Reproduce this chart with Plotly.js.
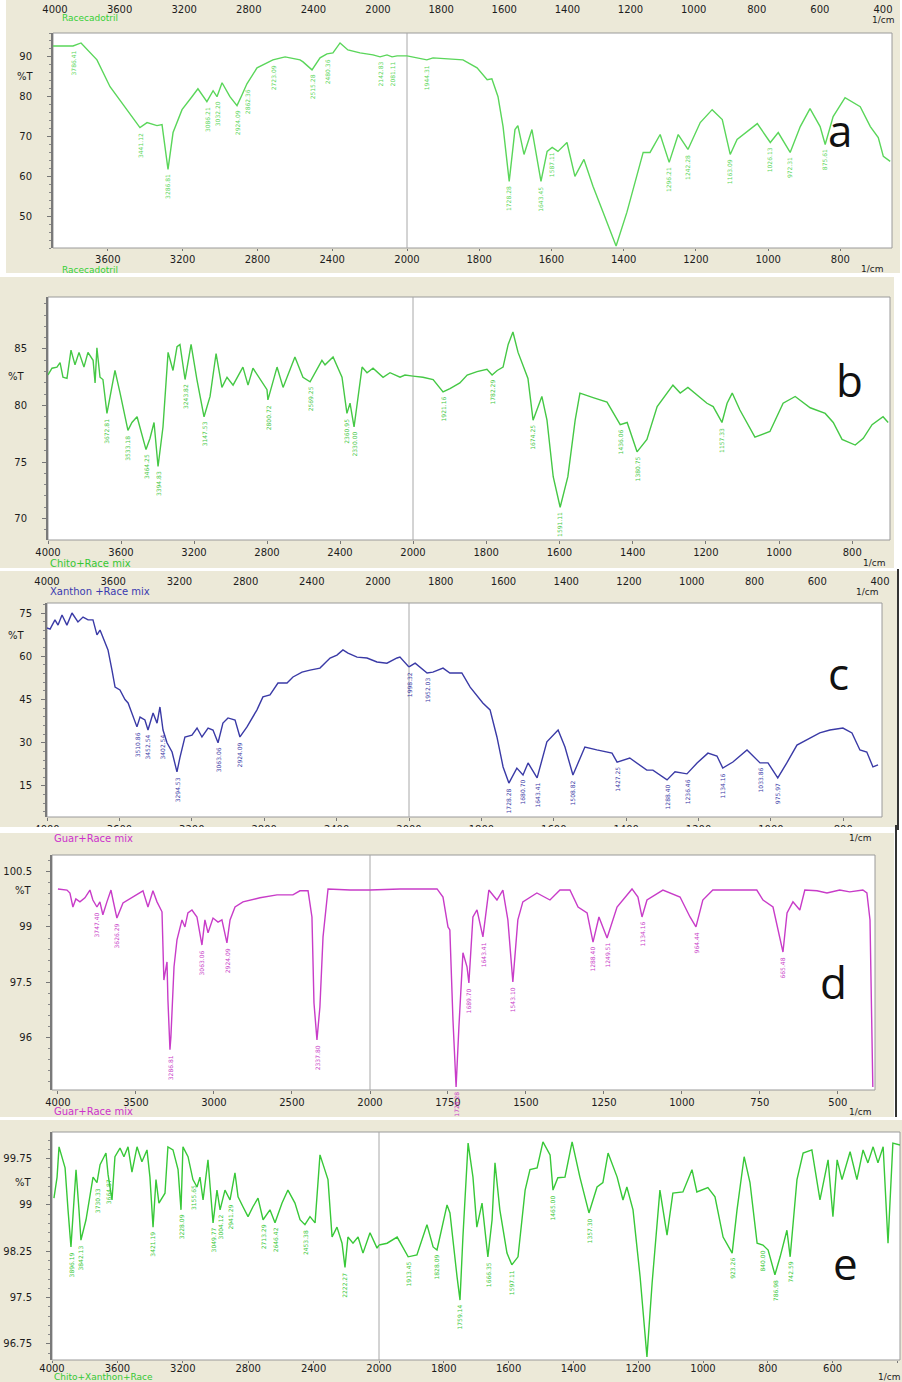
<!DOCTYPE html>
<html><head><meta charset="utf-8">
<script src="https://cdn.plot.ly/plotly-3.0.1.min.js"></script>
<style>html,body{margin:0;padding:0;background:#fff}</style>
</head><body><div id="chart" style="width:902px;height:1382px"></div>
<script>
// ===== DATA (wavenumber in 1/cm, transmittance %T) =====
// a: Racecadotril
const wnA = [3893,3786,3743,3658,3588,3524,3471,3428,3390,3337,3310,3278,3251,3203,3150,3118,3070,3037,3016,2989,2947,2909,2882,2856,2802,2717,2652,2572,2556,2508,2465,2428,2396,2358,2316,2251,2182,2144,2107,2080,2053,2000,1945,1928,1881,1845,1806,1778,1765,1748,1734,1717,1701,1693,1676,1654,1629,1612,1598,1582,1557,1535,1510,1485,1457,1421,1391,1363,1346,1327,1299,1274,1249,1222,1188,1155,1127,1105,1086,1030,994,972,939,911,884,856,842,820,787,745,717,695,681,662];
const tA = [92.75,92.75,93.5,89.25,82.5,78.5,75,72.25,73.5,72.75,73,61.75,71,76.75,80,82,78.75,81.5,80,83.5,80,77.75,80.5,83.25,87.25,89.25,90,89.25,88.75,86.75,89.75,90.75,91,93.5,91.75,91,90.5,90,90.5,90,90.25,90.25,89.25,89.75,89.5,89.25,87.25,84.25,84.5,80,72.5,58.75,71.75,72.75,65.5,71.75,58.75,66.25,67.25,66.25,68.5,60,64.25,57.5,51,42.5,51,60,66,66,70.5,63.5,70.5,66.75,73.5,76.75,74.25,65.5,69.25,73.25,68.5,71,66,72.5,77,72.5,68,75,79.75,77.5,72.5,69.75,65,63.75];
const peakWnA = [3786,3428,3278,3070,3016,2909,2856,2717,2508,2428,2144,2080,1945,1717,1629,1598,1274,1222,1105,994,939,842];
const peakTxtA = ["3786.41","3441.12","3286.81","3086.21","3032.20","2924.09","2862.36","2723.09","2515.28","2480.36","2142.83","2081.11","1944.31","1728.28","1643.45","1587.11","1296.21","1242.28","1163.09","1026.13","972.31","875.61"];
const yTicksA = [50,60,70,80,90];
const xTicksUpA = [3600,3200,2800,2400,2000];
const xTicksLoA = [1800,1600,1400,1200,1000,800];

// b: Chito+Race mix
const wnB = [4000,3978,3951,3934,3918,3896,3874,3852,3830,3803,3781,3753,3742,3732,3715,3699,3677,3633,3605,3562,3540,3512,3463,3441,3419,3397,3370,3342,3315,3293,3277,3249,3216,3184,3145,3112,3079,3047,3019,2986,2932,2904,2877,2800,2795,2745,2712,2647,2603,2564,2499,2482,2438,2389,2362,2345,2323,2279,2252,2219,2164,2126,2071,2044,2000,1973,1945,1918,1899,1872,1852,1825,1798,1784,1770,1754,1740,1727,1713,1694,1686,1672,1648,1634,1617,1598,1577,1557,1544,1508,1470,1434,1415,1388,1361,1333,1290,1270,1249,1197,1180,1156,1142,1128,1107,1066,1025,989,956,915,874,852,828,792,770,746,716,702];
const tB = [82.7,83.3,83.4,83.8,82.5,82.4,84.9,83.6,84.7,83.4,84.7,84,82,85.1,82.5,82.3,79.3,83.1,81.1,77.8,78.5,79,76.1,77.1,78.5,74.6,78.1,84.7,83.1,85.2,85.4,82.3,85.4,82.3,79,80.8,84.6,81.6,82.5,81.8,83.4,81.8,83.3,81.4,80.5,83.4,81.6,84.3,82.5,82.1,84,83.6,84.3,82.5,79.3,80.2,78.1,83.4,82.9,83.3,82.5,82.9,82.5,82.7,82.6,82.5,82.3,81.2,81.5,82,82.7,83,83.2,82.7,83.1,83.4,85.4,86.5,84.7,83,82.4,78.7,80.8,78.7,73.7,71.0,73.7,78.7,81.1,80.7,80.3,78.3,78.5,75.9,77,79.9,81.8,81.1,81.6,80.2,79.9,78.5,80.2,81.1,79.6,77.2,77.7,80.2,80.8,79.8,79.3,78.5,77,76.5,77.1,78.3,79,78.5];
const peakWnB = [3677,3562,3463,3397,3249,3145,2795,2564,2362,2323,1918,1784,1672,1598,1434,1388,1156];
const peakTxtB = ["3672.81","3533.18","3464.25","3394.83","3243.82","3147.53","2800.72","2569.25","2360.95","2330.00","1921.16","1782.29","1674.25","1591.11","1436.06","1380.75","1157.33"];
const yTicksB = [70,75,80,85];
const xTicksUpB = [4000,3600,3200,2800,2400,2000];
const xTicksLoB = [1800,1600,1400,1200,1000,800];

// c: Xanthon +Race mix
const wnC = [4000,3983,3956,3939,3917,3890,3862,3829,3801,3773,3746,3724,3707,3680,3663,3641,3624,3597,3569,3552,3525,3503,3486,3459,3442,3414,3392,3376,3359,3337,3309,3282,3265,3238,3199,3171,3144,3110,3083,3055,3028,3000,2961,2934,2895,2840,2807,2768,2724,2674,2641,2591,2547,2492,2436,2398,2365,2337,2287,2232,2177,2122,2066,2050,2000,1983,1950,1934,1906,1887,1854,1831,1796,1776,1757,1740,1724,1702,1685,1671,1646,1619,1588,1569,1547,1514,1481,1439,1425,1390,1343,1326,1287,1265,1232,1204,1174,1149,1133,1105,1066,1030,1008,981,956,928,892,865,837,801,776,754,735,718,704];
const tC = [69.8,69.4,72.6,70.8,74.3,70.8,75,71.9,73.6,72.6,72.6,67.4,69.1,64.6,62.2,55.2,49.3,48.3,45,43.8,38.9,35.5,38.9,37.9,34.4,40.3,36.8,42.4,34.4,30,26.8,19.9,25,32,32.6,35.1,32,35.1,34.4,30,36.8,38.6,37.9,32,35.5,41.4,45.9,46.6,50.7,50.7,52.8,54.5,55.2,55.9,59.4,60.4,62.2,61.1,59.7,59.4,58,57.6,59.4,59.7,56.3,57.6,54.2,54.5,55.9,54.2,54.2,49.3,43.8,41.4,32,21.6,16.0,21.2,18.8,23,17.8,30.3,34.4,28.5,18.8,28.5,27.5,26.4,23.3,24.7,20.5,20.5,17.1,19.9,19.2,23,26.4,25.4,21.2,23.3,27.5,23,23,17.8,23,29.2,31.6,33.4,34.4,35.1,33.4,27.5,26.8,21.6,22.3];
const peakWnC = [3503,3442,3359,3282,3055,2934,1998,1950,1724,1685,1646,1547,1425,1287,1232,1133,1030,981];
const peakTxtC = ["3510.86","3452.54","3402.54","3294.53","3063.06","2924.09","1998.32","1952.03","1728.28","1680.70","1643.41","1508.82","1427.25","1288.40","1236.46","1134.16","1033.86","975.97"];
const yTicksC = [15,30,45,60,75];
const xTicksUpC = [4000,3600,3200,2800,2400,2000];
const xTicksLoC = [1800,1600,1400,1200,1000,800];

// d: Guar+Race mix
const wnD = [4000,3942,3923,3904,3885,3859,3827,3795,3776,3750,3731,3712,3686,3660,3647,3622,3583,3519,3455,3423,3391,3365,3333,3321,3301,3295,3282,3276,3256,3237,3205,3186,3167,3141,3109,3077,3058,3038,3006,2974,2949,2917,2897,2865,2814,2705,2596,2494,2449,2397,2372,2359,2340,2321,2301,2269,2128,2000,1904,1785,1766,1750,1744,1734,1724,1715,1702,1689,1683,1670,1657,1638,1619,1593,1574,1558,1542,1526,1510,1465,1423,1391,1359,1333,1304,1285,1266,1240,1208,1160,1141,1128,1112,1061,1006,974,955,933,901,760,740,708,676,663,644,622,606,567,535,494,462,420,407,397,388];
const tD = [100.03,100.0,99.92,99.54,99.76,99.68,99.79,100.0,99.73,99.54,99.68,99.33,99.68,100.0,99.73,99.24,99.65,99.81,99.98,99.54,99.98,99.68,99.41,97.56,98.05,97.02,95.67,96.02,97.92,98.65,99.19,99,99.38,99.46,99.27,98.51,99.19,98.84,99.24,99.13,99.19,98.57,99.19,99.54,99.68,99.79,99.87,99.87,99.98,99.98,99.27,96.94,95.94,96.83,98.73,100.03,100.0,100.0,100.03,100.03,99.81,99,98.92,96.48,94.66,96.29,98.3,97.92,97.48,99.27,99.46,98.73,100.0,99.73,100.0,99.19,97.51,99.19,99.68,99.92,99.73,100.0,100.0,99.54,99.38,98.59,99.27,98.70,99.54,100.03,99.81,99.27,99.73,100.0,99.81,99.27,99,99.73,100.0,100.0,99.73,99.54,98.32,99.38,99.68,99.46,100.0,99.98,99.92,100.0,99.95,100.0,99.92,99.19,94.66];
const peakWnD = [3750,3622,3282,3077,2917,2340,1724,1683,1638,1542,1285,1240,1128,955,676];
const peakTxtD = ["3747.40","3626.29","3286.81","3063.06","2924.09","2337.80","1728.28","1689.70","1643.41","1543.10","1288.40","1249.51","1134.16","964.44","665.48"];
const yTicksD = [94.5,96,97.5,99,100.5];
const xTicksUpD = [4000,3500,3000,2500,2000];
const xTicksLoD = [1750,1500,1250,1000,750,500];

// e: Chito+Xanthon+Race
const wnE = [3988,3969,3957,3939,3920,3902,3884,3872,3853,3835,3823,3792,3768,3749,3725,3706,3670,3657,3633,3615,3584,3560,3535,3511,3480,3450,3419,3401,3382,3364,3346,3309,3291,3260,3229,3211,3199,3168,3138,3113,3095,3076,3046,3015,2991,2972,2942,2911,2881,2862,2832,2801,2771,2740,2709,2667,2636,2593,2557,2514,2483,2453,2422,2391,2361,2330,2312,2287,2257,2226,2208,2190,2159,2128,2098,2055,2012,2000,1975,1944,1926,1910,1883,1852,1833,1821,1790,1781,1759,1750,1741,1725,1710,1698,1682,1664,1651,1642,1627,1605,1590,1571,1549,1534,1512,1494,1472,1463,1448,1426,1404,1380,1352,1327,1309,1293,1265,1247,1235,1216,1194,1173,1157,1133,1111,1093,1062,1034,1019,985,963,938,910,895,873,855,833,815,799,778,762,741,731,710,691,664,639,614,599,586,571,546,525,506,491,475,460,444,429,414,392];
const tE = [99.11,99.45,99.94,99.78,99.6,98.92,98.32,98.81,99.57,98.92,98.43,98.76,99.11,99.45,99.36,99.65,99.84,99.49,99.08,99.78,99.92,99.78,99.94,99.53,99.94,99.7,99.89,99.45,98.64,99.41,99.03,99.19,99.94,99.89,99.57,98.92,99.94,99.78,99.41,99.29,99.45,99.08,99.73,98.71,99.24,98.92,99.24,99.08,99.52,99.13,98.97,98.81,98.97,99.11,98.76,98.92,98.71,99.03,99.24,99.03,98.76,98.68,98.81,98.71,99.81,99.57,99.41,98.48,98.64,98.38,97.99,98.48,98.38,98.48,98.22,98.55,98.3,98.35,98.38,98.48,98.32,98.16,98.19,98.68,98.32,98.27,99,98.87,97.83,97.46,98.48,100.0,99.45,98.64,99.03,98.16,98.76,99.68,98.92,98.22,98.03,98.16,99.24,99.57,99.6,100.02,99.81,99.24,99.44,99.45,100.02,99.45,98.87,99.29,99.36,99.84,99.45,99.08,99.29,98.92,97.83,96.54,97.74,99.24,98.51,99.19,99.21,99.57,99.21,99.28,99.13,98.48,98.22,98.92,99.78,99.36,98.38,98.35,98.27,97.87,98.16,98.59,98.16,99.41,99.84,99.89,99.08,99.73,98.81,99.73,99.41,99.86,99.41,99.89,99.68,99.94,99.68,99.94,98.38,100.0,99.97];
const peakWnE = [3884,3823,3725,3657,3382,3211,3138,3015,2972,2911,2709,2636,2453,2208,1910,1821,1750,1664,1590,1463,1352,910,815,778,731];
const peakTxtE = ["3896.19","3842.13","3730.33","3664.87","3421.19","3228.09","3155.65","3049.77","3004.12","2941.29","2713.29","2646.42","2453.38","2222.27","1913.45","1828.09","1759.14","1666.35","1597.11","1465.00","1357.30","923.26","840.00","786.98","742.59"];
const yTicksE = [96.75,97.5,98.25,99,99.75];
const xTicksUpE = [4000,3600,3200,2800,2400,2000];
const xTicksLoE = [1800,1600,1400,1200,1000,800,600,400];

// secondary (top) axis tick labels
const topTicksUp = [4000,3600,3200,2800,2400,2000];
const topTicksLo = [1800,1600,1400,1200,1000,800,600,400];

// ===== LAYOUT / STYLE =====
const W = 902, H = 1382;
const fx = v => v / W, fy = v => 1 - v / H;
const FONT = 'DejaVu Sans';

const panels = [
  {wn:wnA,t:tA,pw:peakWnA,pt:peakTxtA,yt:yTicksA,xu:xTicksUpA,xl:xTicksLoA,color:'#5ad65a',
   L:53,M:407,R:892,T:33,B:248,ru:[3893,2000],rl:[2000,657],yr:[42,96],minor:2,so:13,xtl:2,xso:0,
   frame:[6,900,0,273],letter:'a',lp:[840,130],pctY:76,pctX:36},
  {wn:wnB,t:tB,pw:peakWnB,pt:peakTxtB,yt:yTicksB,xu:xTicksUpB,xl:xTicksLoB,color:'#45c845',
   L:48,M:413,R:890,T:297,B:540,ru:[4000,2000],rl:[2000,697],yr:[68.1,89.6],minor:1,so:13,xtl:3,xso:0,
   frame:[0,894,277,568],letter:'b',lp:[849,380],pctY:377,pctX:27},
  {wn:wnC,t:tC,pw:peakWnC,pt:peakTxtC,yt:yTicksC,xu:xTicksUpC,xl:xTicksLoC,color:'#3a3aa6',
   L:47,M:409,R:882,T:603,B:817,ru:[4000,2000],rl:[2000,693],yr:[4.24,78.47],minor:3,so:7,xtl:3,xso:0,
   frame:[0,897,571,827],letter:'c',lp:[838,673],pctY:635,pctX:27},
  {wn:wnD,t:tD,pw:peakWnD,pt:peakTxtD,yt:yTicksD,xu:xTicksUpD,xl:xTicksLoD,color:'#c83cc8',
   L:52,M:370,R:875,T:855,B:1090,ru:[4038,2000],rl:[2000,381],yr:[94.58,100.95],minor:0.3,so:12,xtl:3,xso:0,
   frame:[0,894,833,1117],letter:'d',lp:[833,982],pctY:890,pctX:34},
  {wn:wnE,t:tE,pw:peakWnE,pt:peakTxtE,yt:yTicksE,xu:xTicksUpE,xl:xTicksLoE,color:'#38c838',
   L:52,M:379,R:900,T:1132,B:1360,ru:[4000,2000],rl:[2000,392],yr:[96.49,100.18],minor:0.15,so:12,xtl:2,xso:-3,
   frame:[0,902,1120,1382],letter:'e',lp:[845,1263],pctY:1182,pctX:34}
];

const traces = [], shapes = [], annotations = [];
const layout = {
  width: W, height: H, margin: {l:0,r:0,t:0,b:0},
  paper_bgcolor: '#ffffff', plot_bgcolor: 'rgba(0,0,0,0)',
  showlegend: false, font: {family: FONT, size: 10, color: '#1a1a1a'}
};
const tickFont = {family: FONT, size: 10, color: '#1c1c1c'};

function txt(px, py, text, color, size, xanchor, extra) {
  annotations.push(Object.assign({xref:'paper', yref:'paper', x:fx(px), y:fy(py), text:text,
    showarrow:false, xanchor:xanchor||'left', yanchor:'middle',
    font:{family:FONT, size:size||10, color:color||'#1c1c1c'}}, extra||{}));
}

panels.forEach((p, i) => {
  const xu = 'x' + (2*i+1 === 1 ? '' : 2*i+1), xl = 'x' + (2*i+2);
  const yy = 'y' + (i === 0 ? '' : i+1);
  const xuKey = 'xaxis' + (2*i+1 === 1 ? '' : 2*i+1), xlKey = 'xaxis' + (2*i+2);
  const yKey = 'yaxis' + (i === 0 ? '' : i+1);
  const common = {showgrid:false, zeroline:false, showline:false, ticks:'outside', ticklen:p.xtl,
    tickcolor:'#777', tickfont:tickFont, tickmode:'array', fixedrange:true, ticklabelstandoff:p.xso};
  layout[xuKey] = Object.assign({}, common, {domain:[fx(p.L), fx(p.M)], range:p.ru, anchor:yy, tickvals:p.xu});
  layout[xlKey] = Object.assign({}, common, {domain:[fx(p.M), fx(p.R)], range:p.rl, anchor:yy, tickvals:p.xl});
  layout[yKey] = {domain:[fy(p.B), fy(p.T)], range:p.yr, anchor:xu, tickmode:'array', tickvals:p.yt,
    ticks:'outside', ticklen:4, tickcolor:'#777', showline:true, linecolor:'#7a7a7a', linewidth:2,
    showgrid:false, zeroline:false, tickfont:tickFont, ticklabelstandoff:p.so, fixedrange:true,
    minor:{ticks:'outside', ticklen:2, dtick:p.minor, tick0:0, tickcolor:'#888'}};

  // spectrum split at the 2000 1/cm scale change
  const up = {x:[], y:[]}, lo = {x:[], y:[]};
  p.wn.forEach((w, k) => {
    if (w >= 2000) { up.x.push(w); up.y.push(p.t[k]); }
    if (w <= 2000) { lo.x.push(w); lo.y.push(p.t[k]); }
  });
  const line = {color:p.color, width:1.4};
  traces.push({type:'scatter', mode:'lines', x:up.x, y:up.y, xaxis:xu, yaxis:yy, line:line, hoverinfo:'skip'});
  traces.push({type:'scatter', mode:'lines', x:lo.x, y:lo.y, xaxis:xl, yaxis:yy, line:line, hoverinfo:'skip'});

  // frame & plot area
  const [fx0, fx1, fy0, fy1] = p.frame;
  shapes.push({type:'rect', xref:'paper', yref:'paper', x0:fx(fx0), x1:fx(fx1), y0:fy(fy1), y1:fy(fy0),
    fillcolor:'#ece9d8', line:{width:0}, layer:'below'});
  shapes.push({type:'rect', xref:'paper', yref:'paper', x0:fx(p.L), x1:fx(p.R), y0:fy(p.B), y1:fy(p.T),
    fillcolor:'#ffffff', line:{color:'#9a9a9a', width:1}, layer:'below'});
  shapes.push({type:'line', xref:'paper', yref:'paper', x0:fx(p.M), x1:fx(p.M), y0:fy(p.B), y1:fy(p.T),
    line:{color:'#a8a8a8', width:1}, layer:'below'});

  // peak labels
  p.pw.forEach((w, k) => {
    let best = 0;
    p.wn.forEach((v, j) => { if (Math.abs(v - w) < Math.abs(p.wn[best] - w)) best = j; });
    annotations.push({xref: w > 2000 ? xu : xl, yref: yy, x: w, y: p.t[best], text: p.pt[k],
      showarrow:false, textangle:-90, xanchor:'center', yanchor:'top', yshift:-3,
      font:{family:FONT, size:6, color:p.color}});
  });

  // %T label and panel letter
  txt(p.pctX, p.pctY, '%T', '#1c1c1c', 10, 'right');
  txt(p.lp[0], p.lp[1], p.letter, '#111111', 44, 'center', {font:{family:'Open Sans', size:44, color:'#111'}});
});

// top (secondary) axes for panels a and c
function topAxes(yKeyNum, xa, xb, L, M, R, py) {
  const yk = 'yaxis' + yKeyNum, yref = 'y' + yKeyNum;
  layout[yk] = {domain:[fy(py+1), fy(py)], range:[0,1], visible:false, anchor:'x'+xa, fixedrange:true};
  const common = {showgrid:false, zeroline:false, showline:false, ticks:'', side:'top',
    tickfont:tickFont, tickmode:'array', anchor:yref, fixedrange:true};
  layout['xaxis'+xa] = Object.assign({}, common, {domain:[fx(L), fx(M)], range:[4000,2000], tickvals:topTicksUp});
  layout['xaxis'+xb] = Object.assign({}, common, {domain:[fx(M), fx(R)], range:[2000,400], tickvals:topTicksLo});
  traces.push({type:'scatter', x:[], y:[], xaxis:'x'+xa, yaxis:yref});
  traces.push({type:'scatter', x:[], y:[], xaxis:'x'+xb, yaxis:yref});
}
topAxes(6, 11, 12, 55, 378, 883, 16);
topAxes(7, 13, 14, 47, 378, 880, 588);

// sample names and units
txt(60, 18, 'Racecadotril', '#35d035', 9);
txt(60, 270, 'Racecadotril', '#35d035', 9);
txt(48, 563, 'Chito+Race mix', '#35c835', 10);
txt(48, 591, 'Xanthon +Race mix', '#3a3ab0', 10);
txt(52, 838, 'Guar+Race mix', '#cc33cc', 10);
txt(52, 1111, 'Guar+Race mix', '#cc33cc', 10);
txt(52, 1377, 'Chito+Xanthon+Race', '#35c835', 9);
txt(896, 20, '1/cm', '#1c1c1c', 9, 'right');
txt(885, 269, '1/cm', '#1c1c1c', 9, 'right');
txt(887, 563, '1/cm', '#1c1c1c', 9, 'right');
txt(880, 592, '1/cm', '#1c1c1c', 9, 'right');
txt(873, 838, '1/cm', '#1c1c1c', 9, 'right');
txt(873, 1112, '1/cm', '#1c1c1c', 9, 'right');
txt(902, 1377, '1/cm', '#1c1c1c', 9, 'right');

// gap between c and d hides lower half of c's bottom labels; dark window edges
shapes.push({type:'rect', xref:'paper', yref:'paper', x0:0, x1:1, y0:fy(833), y1:fy(827),
  fillcolor:'#ffffff', line:{width:0}, layer:'above'});
shapes.push({type:'line', xref:'paper', yref:'paper', x0:fx(898), x1:fx(898), y0:fy(830), y1:fy(569),
  line:{color:'#333', width:2}, layer:'above'});
shapes.push({type:'line', xref:'paper', yref:'paper', x0:fx(896), x1:fx(896), y0:fy(1117), y1:fy(825),
  line:{color:'#333', width:2}, layer:'above'});

layout.shapes = shapes;
layout.annotations = annotations;
Plotly.newPlot('chart', traces, layout, {staticPlot:true, displayModeBar:false});
</script>
</body></html>
